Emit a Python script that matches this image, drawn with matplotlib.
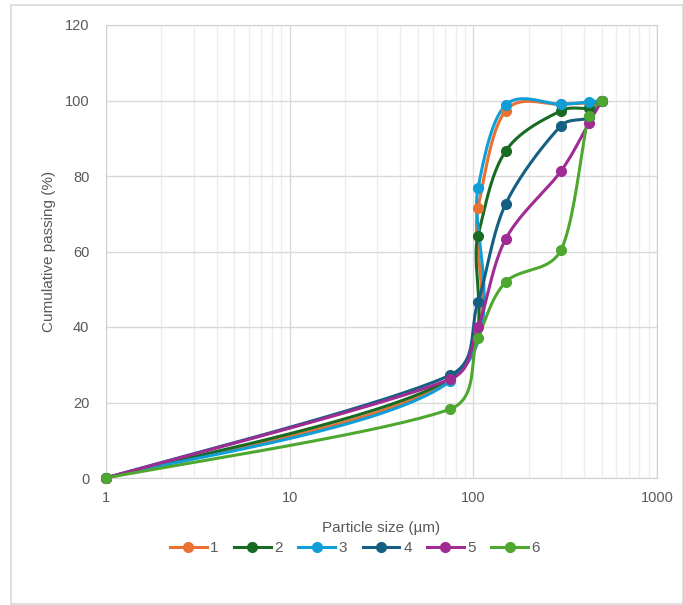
import numpy as np
import matplotlib.pyplot as plt
from matplotlib.patches import Rectangle
from matplotlib.lines import Line2D

plt.rcParams['font.family'] = ['Liberation Sans', 'DejaVu Sans']

sizes = [1, 75, 106, 150, 300, 425, 500]
s1 = [0, 26.0, 71.5, 97.3, 99.0, 99.3, 100]
s2 = [0, 26.4, 64.2, 86.6, 97.3, 98.0, 100]
s3 = [0, 25.7, 76.8, 98.8, 99.0, 99.6, 100]
s4 = [0, 27.3, 46.6, 72.6, 93.3, 95.5, 100]
s5 = [0, 26.2, 40.0, 63.3, 81.3, 94.0, 100]
s6 = [0, 18.3, 37.2, 51.9, 60.4, 96.0, 100]
names = ['1', '2', '3', '4', '5', '6']
colors = ['#E97132', '#196B24', '#0F9ED5', '#156082', '#A02B93', '#4EA72E']

# rough screen scale (px per decade, px per %), smoothing is done in screen space like excel
SX, SY = 183.5, 3.775


def smooth(xs, ys, n=40, k=0.4):
    P = np.column_stack([np.log10(np.array(xs, dtype=float)) * SX, np.array(ys, dtype=float) * SY])
    m = len(P)
    out = []
    for i in range(m - 1):
        p0 = P[i - 1] if i > 0 else P[i]
        p1 = P[i]
        p2 = P[i + 1]
        p3 = P[i + 2] if i + 2 < m else P[i + 1]
        d12 = np.hypot(*(p2 - p1))
        t1 = p2 - p0
        t2 = p3 - p1
        l1 = np.hypot(*t1)
        l2 = np.hypot(*t2)
        a1 = min(l1 / 6, k * d12)
        a2 = min(l2 / 6, k * d12)
        c1 = p1 + t1 / l1 * a1
        c2 = p2 - t2 / l2 * a2
        t = np.linspace(0, 1, n)[:, None]
        seg = ((1 - t) ** 3) * p1 + 3 * ((1 - t) ** 2) * t * c1 + 3 * (1 - t) * t ** 2 * c2 + t ** 3 * p2
        out.append(seg if i == 0 else seg[1:])
    pts = np.vstack(out)
    return 10 ** (pts[:, 0] / SX), pts[:, 1] / SY


fig = plt.figure(figsize=(6.83, 6.05), dpi=100)
fig.patches.append(Rectangle((11 / 683, 1 / 605), 1 - 11 / 683, 1 - 6 / 605, transform=fig.transFigure,
                             fill=False, edgecolor='#D9D9D9', linewidth=1.2))
ax = fig.add_axes([106 / 683, 1 - 478 / 605, (657 - 106) / 683, (478 - 25) / 605])

series = [s1, s2, s3, s4, s5, s6]
for ys, c in zip(series, colors):
    sx, sy = smooth(sizes, ys)
    ax.plot(sx, sy, color=c, lw=2.2, zorder=3, solid_capstyle='round')
    ax.plot(sizes, ys, 'o', color=c, ms=7, zorder=4, clip_on=False)

ax.set_xscale('log')
ax.set_xlim(1, 1000)
ax.set_ylim(0, 120)
ax.set_yticks(range(0, 121, 20))
ax.set_xticks([1, 10, 100, 1000])
ax.set_xticklabels(['1', '10', '100', '1000'])
ax.grid(True, which='major', color='#D9D9D9', lw=1)
ax.grid(True, which='minor', axis='x', color='#EDEDED', lw=1)
ax.set_axisbelow(True)
for sp in ax.spines.values():
    sp.set_color('#D0D0D0')
ax.tick_params(which='both', length=0, colors='#595959', labelsize=10.5)
ax.tick_params(axis='y', pad=12)
ax.tick_params(axis='x', pad=9)
ax.set_xlabel('Particle size (µm)', fontsize=11, color='#595959', labelpad=12)
ax.set_ylabel('Cumulative passing (%)', fontsize=11, color='#595959', labelpad=6)

handles = [Line2D([0], [0], color=c, lw=2.2, marker='o', ms=7) for c in colors]
fig.legend(handles, names, loc='center', bbox_to_anchor=(355 / 683, 1 - 548 / 605), ncol=6, frameon=False,
           fontsize=11, labelcolor='#595959', handlelength=2.4, handletextpad=0.25, columnspacing=1.0)

plt.savefig('out.png', dpi=100)
